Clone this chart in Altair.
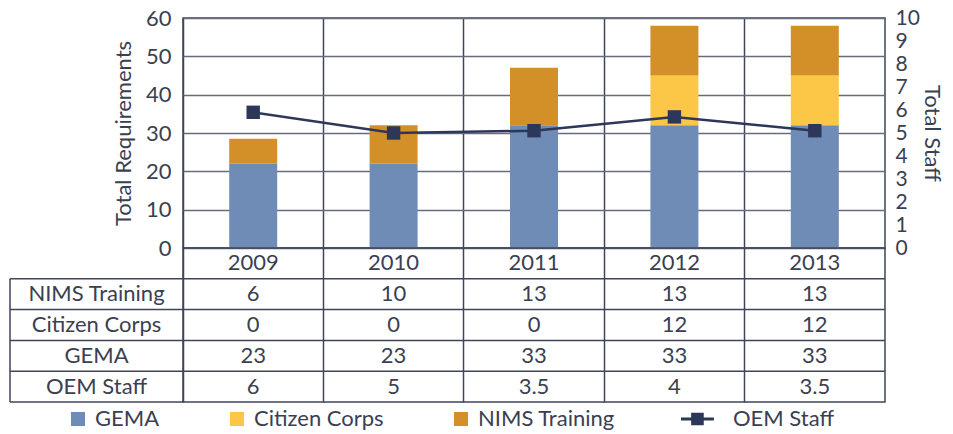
import altair as alt
import pandas as pd

# ---------------- data ----------------
years = ["2009", "2010", "2011", "2012", "2013"]
gema_req = [22, 22, 32, 32, 32]
citizen_req = [0, 0, 0, 13, 13]
nims_req = [6.5, 10, 15, 13, 13]
oem_staff_line = [5.9, 5.0, 5.1, 5.7, 5.1]

row_names = ["Year", "NIMS Training", "Citizen Corps", "GEMA", "OEM Staff"]
tbl_nims = ["6", "10", "13", "13", "13"]
tbl_citizen = ["0", "0", "0", "12", "12"]
tbl_gema = ["23", "23", "33", "33", "33"]
tbl_oem = ["6", "5", "3.5", "4", "3.5"]

series = ["GEMA", "Citizen Corps", "NIMS Training", "OEM Staff"]
colors = ["#6f8cb7", "#fcc646", "#d38f28", "#2c3759"]

# ---------------- style ----------------
FONT = "Lato"
TXT = "#3a3f52"
LINE = "#3f4559"
GRID = "#666b7d"
NAVY = "#2c3759"
FS = 22
W, H_TOP, H_TBL = 702, 230, 154
LEFT_EXT = 173
OEM_PATH = "M-5,-0.2H-0.3V0.2H-5Z M-3.55,-0.9H-1.75V0.9H-3.55Z"

# ---------------- frames ----------------
bar_rows = []
for i, y in enumerate(years):
    bar_rows.append({"year": y, "series": "GEMA", "value": gema_req[i], "ord": 0})
    bar_rows.append({"year": y, "series": "Citizen Corps", "value": citizen_req[i], "ord": 1})
    bar_rows.append({"year": y, "series": "NIMS Training", "value": nims_req[i], "ord": 2})
bar_df = pd.DataFrame(bar_rows)
line_df = pd.DataFrame({"year": years, "staff": oem_staff_line})

tbl_rows = []
for i, y in enumerate(years):
    tbl_rows.append({"year": y, "row": "Year", "text": y})
    tbl_rows.append({"year": y, "row": "NIMS Training", "text": tbl_nims[i]})
    tbl_rows.append({"year": y, "row": "Citizen Corps", "text": tbl_citizen[i]})
    tbl_rows.append({"year": y, "row": "GEMA", "text": tbl_gema[i]})
    tbl_rows.append({"year": y, "row": "OEM Staff", "text": tbl_oem[i]})
tbl_df = pd.DataFrame(tbl_rows)


def x_enc():
    return alt.X(
        "year:N", sort=years,
        scale=alt.Scale(type="band", paddingInner=0, paddingOuter=0),
        axis=alt.Axis(labels=False, ticks=False, domain=False, title=None,
                      grid=True, bandPosition=0, gridColor=LINE,
                      gridWidth=1.5, gridOpacity=1),
    )


# ---------------- top chart ----------------
bars = alt.Chart(bar_df).mark_bar(size=48).encode(
    x=x_enc(),
    y=alt.Y("value:Q", stack="zero",
            scale=alt.Scale(domain=[0, 60], nice=False),
            axis=alt.Axis(values=[0, 10, 20, 30, 40, 50, 60], title="Total Requirements",
                          grid=True, gridColor=GRID, gridWidth=1.5, ticks=False,
                          domain=False, labelPadding=12, titlePadding=10)),
    color=alt.Color("series:N", scale=alt.Scale(domain=series, range=colors), legend=None),
    order=alt.Order("ord:Q"),
)

y_staff = alt.Y("staff:Q", scale=alt.Scale(domain=[0, 10], nice=False),
                axis=alt.Axis(orient="right", values=list(range(11)), title="Total Staff",
                              grid=False, ticks=False, domain=False, labelPadding=10,
                              labelFontSize=21, labelOverlap=False, titlePadding=0,
                              titleAngle=90))
line = alt.Chart(line_df).mark_line(color=NAVY, strokeWidth=2.5).encode(x=x_enc(), y=y_staff)
pts = alt.Chart(line_df).mark_point(shape="square", filled=True, size=180,
                                    color=NAVY, opacity=1).encode(x=x_enc(), y=y_staff)

top = alt.layer(bars, alt.layer(line, pts)).resolve_scale(y="independent").properties(
    width=W, height=H_TOP)

# ---------------- table chart ----------------
def y_tbl(bp=None):
    kw = dict(sort=row_names, scale=alt.Scale(type="band", paddingInner=0, paddingOuter=0),
              axis=alt.Axis(labelExpr="datum.value == 'Year' ? '' : datum.value",
                            labelAlign="center", labelPadding=87, ticks=False,
                            domain=False, title=None, grid=False))
    if bp is not None:
        kw["bandPosition"] = bp
    return alt.Y("row:N", **kw)


txt = alt.Chart(tbl_df).mark_text(fontSize=FS, font=FONT, color=TXT).encode(
    x=x_enc(), y=y_tbl(), text="text:N")

hrules = alt.Chart(pd.DataFrame({"row": row_names[1:]})).mark_rule(
    color=LINE, strokeWidth=1.5).encode(
    y=y_tbl(0), x=alt.value(-LEFT_EXT), x2=alt.value(W))
brule = alt.Chart(pd.DataFrame({"row": ["OEM Staff"]})).mark_rule(
    color=LINE, strokeWidth=1.5).encode(
    y=y_tbl(1), x=alt.value(-LEFT_EXT), x2=alt.value(0))
lrule = alt.Chart(pd.DataFrame({"row": ["NIMS Training"]})).mark_rule(
    color=LINE, strokeWidth=1.5).encode(
    y=y_tbl(0), y2=alt.value(H_TBL), x=alt.value(-LEFT_EXT))

leg_props = dict(orient="none", legendX=-116, legendY=160, direction="horizontal",
                 title=None, labelFontSize=FS, labelFont=FONT, labelColor=TXT,
                 symbolSize=196, symbolOpacity=1, symbolStrokeWidth=0,
                 columnPadding=66, labelOffset=6, columns=4)
leg = alt.Chart(pd.DataFrame({"series": series})).mark_point(
    filled=True, opacity=0).encode(
    x=alt.value(0), y=alt.value(0),
    color=alt.Color("series:N", scale=alt.Scale(domain=series, range=colors),
                    legend=alt.Legend(**leg_props)),
    shape=alt.Shape("series:N",
                    scale=alt.Scale(domain=series,
                                    range=["square", "square", "square", OEM_PATH]),
                    legend=alt.Legend(**leg_props)),
)

table = alt.layer(txt, hrules, brule, lrule, leg).properties(width=W, height=H_TBL)

chart = alt.vconcat(top, table, spacing=0, bounds="flush").resolve_scale(
    color="independent", shape="independent"
).properties(
    padding={"top": -2, "left": 0, "right": 0, "bottom": 0}
).configure_view(stroke=LINE, strokeWidth=1.5).configure_axis(
    labelFont=FONT, titleFont=FONT, labelColor=TXT, titleColor=TXT,
    labelFontSize=FS, titleFontSize=FS, titleFontWeight="normal"
)

chart.save("out.html", embed_options={"renderer": "svg", "actions": False})
